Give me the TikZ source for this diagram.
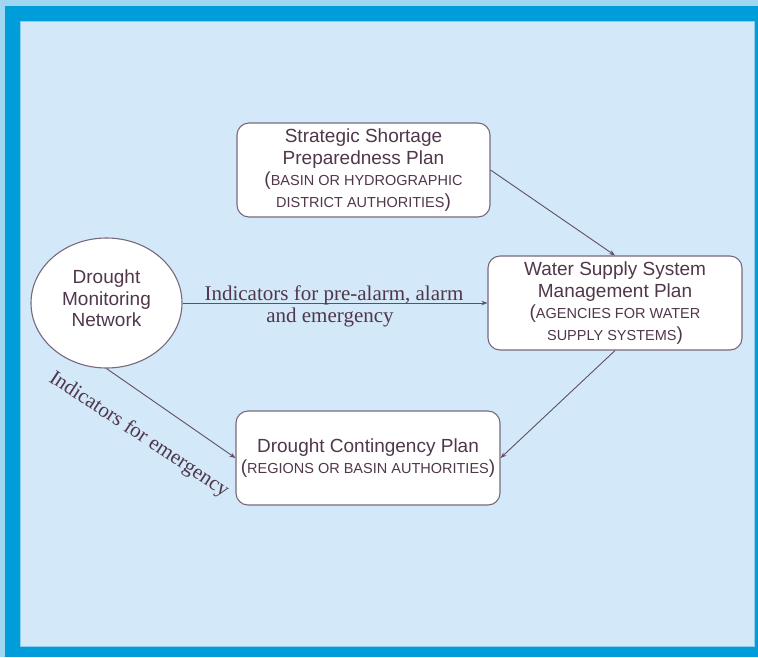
\documentclass[tikz,border=0pt]{standalone}
\usepackage{fontspec}
\setmainfont{Liberation Serif}
\setsansfont{Liberation Sans}
\usetikzlibrary{shapes.geometric,arrows.meta}
\definecolor{outerlight}{RGB}{160,214,240}
\definecolor{framedark}{RGB}{0,157,219}
\definecolor{innerbg}{RGB}{211,232,248}
\definecolor{inneredge}{RGB}{140,205,238}
\definecolor{txtcol}{RGB}{80,55,75}
\definecolor{linecol}{RGB}{95,80,105}
\definecolor{boxedge}{RGB}{120,105,125}
\newcommand{\smc}[1]{{\fontsize{14.5}{21.5}\selectfont #1}}
\tikzset{
  planbox/.style={draw=boxedge, line width=1.1pt, fill=white, rounded corners=12pt,
    inner sep=0pt, align=center, text=txtcol,
    font=\sffamily\fontsize{19}{21.5}\selectfont},
  netnode/.style={draw=boxedge, line width=1.1pt, fill=white, ellipse, inner sep=0pt,
    minimum width=151pt, minimum height=130pt},
  sanstxt/.style={align=center, text=txtcol, inner sep=0pt,
    font=\sffamily\fontsize{19}{21.5}\selectfont},
  seriftxt/.style={text=txtcol, inner sep=0pt, font=\rmfamily\fontsize{21}{24}\selectfont},
  arr/.style={draw=linecol, line width=0.9pt, -{Stealth[length=6pt,width=4.5pt]}}
}
\begin{document}
\begin{tikzpicture}[x=1pt,y=-1pt]
\useasboundingbox (0,0) rectangle (758,657);
\fill[outerlight] (0,0) rectangle (758,657);
\fill[framedark] (5,6) rectangle (758,657);
\fill[innerbg] (20,21) rectangle (754,646);
\draw[inneredge, line width=0.8pt] (20,21) rectangle (754,646);

\node[netnode] (dmn) at (106.5,303) {};
\node[sanstxt] (dmntxt) at (106.5,298.5) {Drought\\Monitoring\\Network};

\node[planbox, minimum width=253pt, minimum height=94pt] (ssp) at (363.5,170)
  {Strategic Shortage\\Preparedness Plan\\(\smc{BASIN OR HYDROGRAPHIC}\\\smc{DISTRICT AUTHORITIES})};
\node[planbox, minimum width=254pt, minimum height=94pt] (wss) at (615,303)
  {Water Supply System\\Management Plan\\(\smc{AGENCIES FOR WATER}\\\smc{SUPPLY SYSTEMS})};
\node[planbox, minimum width=264pt, minimum height=94pt] (dcp) at (368,458)
  {Drought Contingency Plan\\(\smc{REGIONS OR BASIN AUTHORITIES})};

\draw[arr] (dmn.east |- wss.west) -- (wss.west);
\draw[arr] (ssp.east) -- (wss.north);
\draw[arr] (wss.south) -- (dcp.east);
\draw[arr] (dmn.south) -- (dcp.west);

\node[seriftxt, anchor=base] (lab1) at (334,300.5) {Indicators for pre-alarm, alarm};
\node[seriftxt, anchor=base] (lab2) at (330,322) {and emergency};
\node[seriftxt, anchor=base, rotate=-33.4] (lab3) at (136,439) {Indicators for emergency};
\end{tikzpicture}
\end{document}
